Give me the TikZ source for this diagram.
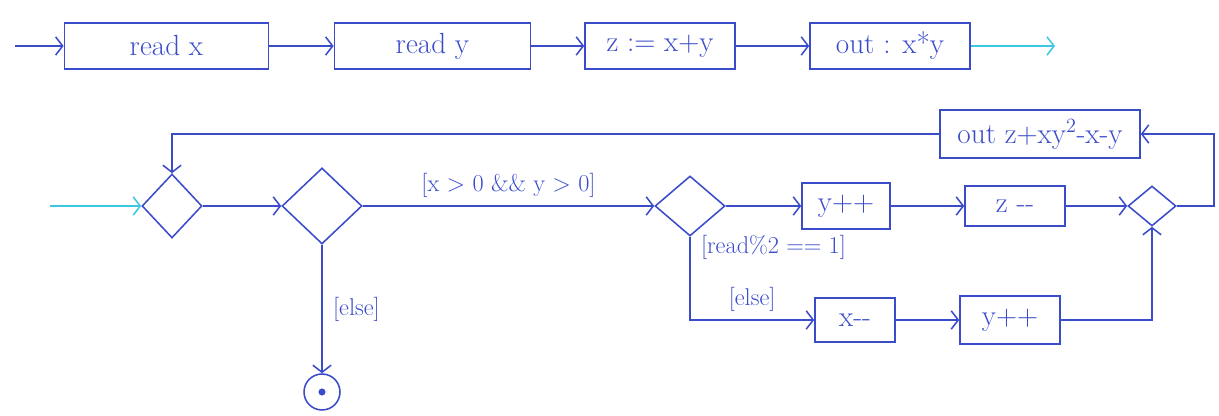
\documentclass[tikz,border=0pt]{standalone}
\usepackage{tikz}
\usetikzlibrary{arrows.meta,positioning,shapes.geometric,calc}
\definecolor{Pen}{HTML}{3B4CCA}
\definecolor{Marker}{HTML}{3CC8E0}

\begin{document}
\begin{tikzpicture}[>={Straight Barb[length=5pt,width=13pt]},font=\huge,
  act/.style={draw=Pen,line width=1.1pt,text=Pen,minimum height=1.15cm},
  cond/.style={draw=Pen,line width=1.1pt,diamond,inner sep=0pt},
  flow/.style={->,line width=1.1pt,Pen},
  guard/.style={text=Pen,font=\LARGE}]
  \useasboundingbox (0,0) rectangle (30.475,10.4);
  % first version: straight sequence
  \coordinate (in0) at (0.375,9.25);
  \node[act,minimum width=5.1cm] (readx) at (4.16,9.25) {read x};
  \node[act,minimum width=4.9cm] (ready) at (10.81,9.25) {read y};
  \node[act,minimum width=3.75cm] (sum) at (16.5,9.25) {z := x+y};
  \node[act,minimum width=4cm] (outxy) at (22.25,9.25) {out : x*y};
  \coordinate (out0) at (26.375,9.25);
  \draw[flow] (in0) -- (readx);
  \draw[flow] (readx) -- (ready);
  \draw[flow] (ready) -- (sum);
  \draw[flow] (sum) -- (outxy);
  \draw[flow,Marker] (outxy) -- (out0);
  % second version: loop with branches
  \coordinate (start) at (1.25,5.25);
  \node[cond,minimum width=1.5cm,minimum height=1.6cm] (merge0) at (4.3,5.25) {};
  \node[cond,minimum width=2cm,minimum height=1.9cm] (loop) at (8.05,5.25) {};
  \node[circle,draw=Pen,line width=1.1pt,minimum size=0.9cm,path picture={\fill[Pen] (path picture bounding box.center) circle (2.5pt);}] (final) at (8.05,0.6) {};
  \node[cond,minimum width=1.75cm,minimum height=1.5cm] (odd) at (17.25,5.25) {};
  \node[act,minimum width=2.2cm] (yinc) at (21.15,5.25) {y++};
  \node[act,minimum width=2.5cm,minimum height=1cm] (zdec) at (25.375,5.25) {z -{}-};
  \node[cond,minimum width=1.2cm,minimum height=1cm] (merge1) at (28.8,5.25) {};
  \node[act,minimum width=5cm,minimum height=1.2cm] (outz) at (26.0,7.05) {out z+xy\textsuperscript{2}-x-y};
  \node[act,minimum width=2cm,minimum height=1.1cm] (xdec) at (21.375,2.4) {x-{}-};
  \node[act,minimum width=2.5cm,minimum height=1.2cm] (yinc2) at (25.25,2.4) {y++};
  \coordinate (rt) at (30.35,5.25);
  \draw[flow,Marker] (start) -- (merge0);
  \draw[flow] (merge0) -- (loop);
  \draw[flow] (loop) -- node[guard,above=2pt] {[x > 0 \&\& y > 0]} (odd);
  \draw[flow] (loop) -- node[guard,right=4pt] {[else]} (final);
  \draw[flow] (odd) -- node[guard,below=17pt,xshift=0.25cm] {[read\%2 == 1]} (yinc);
  \draw[flow] (odd.south) |- node[guard,above=2pt,pos=0.75] {[else]} (xdec);
  \draw[flow] (yinc) -- (zdec);
  \draw[flow] (zdec) -- (merge1);
  \draw[flow] (xdec) -- (yinc2);
  \draw[flow] (yinc2) -| (merge1);
  \draw[flow] (merge1) -- (rt) |- (outz);
  \draw[flow] (outz) -| (merge0);
\end{tikzpicture}
\end{document}
